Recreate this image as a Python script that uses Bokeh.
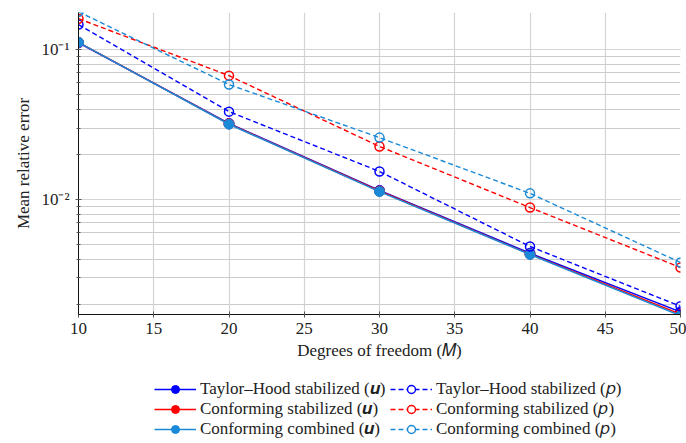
from bokeh.plotting import figure
from bokeh.layouts import column
from bokeh.models import (FixedTicker, CustomJSTickFormatter, Legend, LegendItem, Range1d)
from bokeh.embed import file_html
from bokeh.resources import INLINE

dof = [10, 20, 30, 40, 50]

th_u = [0.111, 0.0322, 0.0115, 0.00438, 0.00178]
cs_u = [0.112, 0.0320, 0.0114, 0.00432, 0.00172]
cc_u = [0.112, 0.0318, 0.0113, 0.00430, 0.00168]

th_p = [0.147, 0.0386, 0.0154, 0.00486, 0.00194]
cs_p = [0.161, 0.0671, 0.0226, 0.00884, 0.00352]
cc_p = [0.179, 0.0585, 0.0259, 0.0110, 0.00380]

x_ticks = [10, 15, 20, 25, 30, 35, 40, 45, 50]

labels_u = ["Taylor\u2013Hood stabilized (\U0001D496)",
            "Conforming stabilized (\U0001D496)",
            "Conforming combined (\U0001D496)"]
labels_p = ["Taylor\u2013Hood stabilized (\U0001D45D)",
            "Conforming stabilized (\U0001D45D)",
            "Conforming combined (\U0001D45D)"]

BLUE = "#0000ff"
RED = "#ff0000"
LBLUE = "#1a8ad8"
FONT = "Liberation Serif"

p = figure(width=686, height=370, y_axis_type="log",
           x_range=Range1d(10, 50), y_range=Range1d(1.71e-3, 0.177),
           output_backend="svg", toolbar_location=None,
           min_border_left=78, min_border_right=6, min_border_top=12,
           min_border_bottom=56)
p.outline_line_color = None
p.background_fill_color = "white"

p.xaxis.ticker = FixedTicker(ticks=x_ticks)
p.xaxis.minor_tick_line_color = None
p.yaxis.formatter = CustomJSTickFormatter(code="""
const e = Math.round(Math.log10(tick));
const sup = {'-':'\u207b','0':'\u2070','1':'\u00b9','2':'\u00b2','3':'\u00b3','4':'\u2074'};
return '10' + String(e).split('').map(c => sup[c]).join('');
""")
for ax in (p.xaxis, p.yaxis):
    ax.major_label_text_font = FONT
    ax.major_label_text_font_size = "17px"
    ax.major_label_text_color = "#222222"
    ax.axis_label_text_font = FONT
    ax.axis_label_text_font_size = "17px"
    ax.axis_label_text_font_style = "normal"
    ax.axis_label_text_color = "#222222"
    ax.axis_line_color = "#111111"
    ax.major_tick_line_color = "#555555"
    ax.major_tick_in = 3
    ax.major_tick_out = 3
p.yaxis.minor_tick_in = 2
p.yaxis.minor_tick_out = 2
p.yaxis.minor_tick_line_color = "#555555"
p.xaxis.axis_label = "Degrees of freedom (\U0001D440)"
p.yaxis.axis_label = "Mean relative error"
p.xaxis.major_label_standoff = 5
p.yaxis.major_label_standoff = 6
p.xaxis.axis_label_standoff = 4

p.xgrid.grid_line_color = "#d4d4d4"
p.xgrid.grid_line_width = 1.2
p.ygrid.grid_line_color = "#d4d4d4"
p.ygrid.grid_line_width = 1.2
p.ygrid.minor_grid_line_color = "#cccccc"
p.ygrid.minor_grid_line_width = 1

# legend strip under the chart; its renderers use the same data but lie outside its view
lf = figure(width=686, height=73, output_backend="svg", toolbar_location=None,
            x_axis_location=None, y_axis_location=None,
            min_border_left=78, min_border_right=6, min_border_top=0, min_border_bottom=0,
            x_range=Range1d(100, 101), y_range=Range1d(0, 1))
lf.outline_line_color = None
lf.grid.visible = False

items = []
for ys, col, lab in [(th_u, BLUE, labels_u[0]), (cs_u, RED, labels_u[1]), (cc_u, LBLUE, labels_u[2])]:
    p.line(dof, ys, line_color=col, line_width=1.5)
    p.scatter(dof, ys, size=10, fill_color=col, line_color=col)
    l = lf.line(dof, ys, line_color=col, line_width=1.5)
    s = lf.scatter(dof, ys, size=9, fill_color=col, line_color=col)
    items.append(LegendItem(label=lab, renderers=[l, s]))

for ys, col, lab in [(th_p, BLUE, labels_p[0]), (cs_p, RED, labels_p[1]), (cc_p, LBLUE, labels_p[2])]:
    p.line(dof, ys, line_color=col, line_width=1.4, line_dash="5 3")
    p.scatter(dof, ys, size=9, fill_color="white", fill_alpha=0.0, line_color=col, line_width=1.5)
    l = lf.line(dof, ys, line_color=col, line_width=1.4, line_dash="5 3")
    s = lf.scatter(dof, ys, size=7, fill_color="white", line_color=col, line_width=1.5)
    items.append(LegendItem(label=lab, renderers=[l, s]))

legend = Legend(items=items, nrows=3, orientation="vertical",
                location=(76, 4), padding=0, margin=0, spacing=0,
                label_text_font=FONT, label_text_font_size="17px",
                label_text_color="#222222",
                label_height=20, glyph_height=20, glyph_width=42,
                label_width=190,
                label_standoff=4, border_line_color=None,
                background_fill_alpha=0.0)
lf.add_layout(legend, "center")

open("out.html", "w").write(file_html(column(p, lf, spacing=0), INLINE))
